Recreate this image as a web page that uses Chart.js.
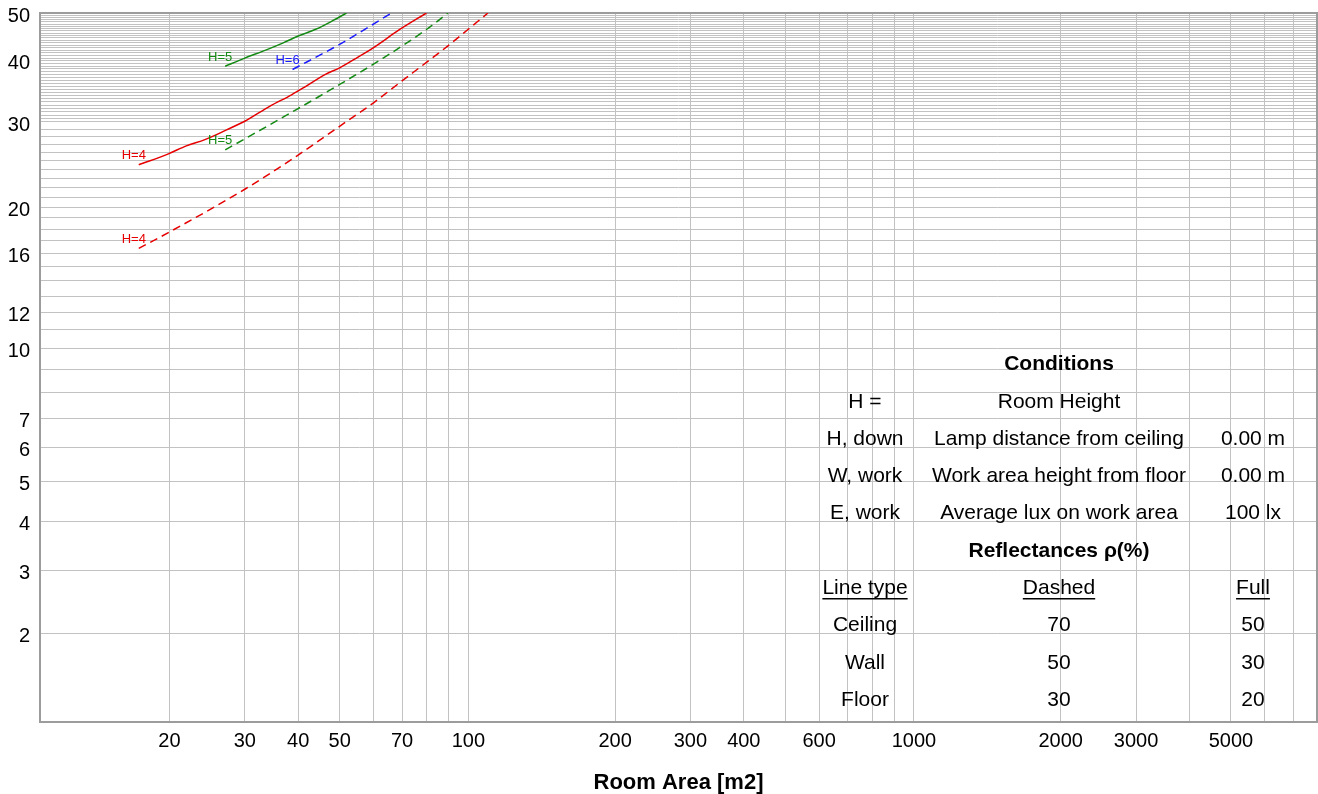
<!DOCTYPE html>
<html lang="en">
<head>
<meta charset="UTF-8">
<title>Room Area</title>
<script src="https://cdn.jsdelivr.net/npm/chart.js"></script>
<style>
    html, body { margin: 0; padding: 0; background: #fff; }
</style>
</head>
<body>
<canvas id="areaChart" width="1318" height="794"></canvas>
<script>
// tick labels shown on the axes
const xTickLabels = [20, 30, 40, 50, 70, 100, 200, 300, 400, 600, 1000, 2000, 3000, 5000];
const yTickLabels = [2, 3, 4, 5, 6, 7, 10, 12, 16, 20, 30, 40, 50];

// curves, room area [m2] -> value
const h4FullArea = [17.3, 19.9, 21.9, 24.2, 27.2, 30, 34.3, 38.6, 41.5, 46.2, 50, 55.2, 59.9, 69.1, 79.8];
const h4FullVal  = [24.5, 25.8, 26.8, 27.6, 28.9, 30.1, 32.3, 34.1, 35.4, 37.5, 38.7, 40.7, 42.5, 46.3, 50];
const h5FullArea = [27.0, 30, 33.7, 36.9, 40, 44.1, 48.3, 51.9];
const h5FullVal  = [39.0, 40.5, 42.1, 43.5, 44.9, 46.4, 48.3, 50];
const h6DashArea = [38.8, 50, 66.1];
const h6DashVal  = [38.4, 43.2, 50];
const h5DashArea = [27.0, 30, 39.6, 50, 63.2, 79.8, 89.6];
const h5DashVal  = [26.3, 27.7, 31.8, 35.8, 40.5, 46.3, 50];
const h4DashArea = [17.3, 19.9, 30, 39.6, 50, 59.9, 69.1, 79.8, 89.6, 99.8, 109.7];
const h4DashVal  = [16.4, 17.7, 21.8, 25.5, 29.4, 32.8, 36.1, 39.7, 42.9, 46.3, 50];

// conditions table
const tableRows = [
    ['', 'Conditions', ''],
    ['H =', 'Room Height', ''],
    ['H, down', 'Lamp distance from ceiling', '0.00 m'],
    ['W, work', 'Work area height from floor', '0.00 m'],
    ['E, work', 'Average lux on work area', '100 lx'],
    ['', 'Reflectances \u03c1(%)', ''],
    ['Line type', 'Dashed', 'Full'],
    ['Ceiling', '70', '50'],
    ['Wall', '50', '30'],
    ['Floor', '30', '20']
];
const boldRows = [0, 5];
const underlineRows = [6];

const FONT = '"Liberation Sans", Arial, sans-serif';

// the original area axis splits every decade unevenly (1-2 wider than log)
const A12 = 1.0937, B210 = 0.0404, C210 = 0.9596;
function areaPos(v) {
    const lg = Math.log10(v);
    const d = Math.floor(lg + 1e-9);
    const r = lg - d;
    return d + (r < Math.log10(2) ? A12 * r : B210 + C210 * r);
}
function areaInv(t) {
    const d = Math.floor(t);
    const r = t - d;
    const lg = r < A12 * Math.log10(2) ? r / A12 : (r - B210) / C210;
    return Math.pow(10, d + lg);
}

class AreaScale extends Chart.LogarithmicScale {
    static id = 'areaLog';
    getPixelForValue(v) {
        if (!v || v <= 0) v = this.min;
        const lo = areaPos(this.min), hi = areaPos(this.max);
        return this.getPixelForDecimal((areaPos(v) - lo) / (hi - lo));
    }
    getValueForPixel(p) {
        const lo = areaPos(this.min), hi = areaPos(this.max);
        return areaInv(lo + this.getDecimalForPixel(p) * (hi - lo));
    }
}

// value axis: log of (v + 1)
class ShiftScale extends Chart.LogarithmicScale {
    static id = 'shiftLog';
    getPixelForValue(v) {
        if (v === undefined || v === null) v = this.min;
        const lo = Math.log10(this.min + 1), hi = Math.log10(this.max + 1);
        return this.getPixelForDecimal((Math.log10(v + 1) - lo) / (hi - lo));
    }
    getValueForPixel(p) {
        const lo = Math.log10(this.min + 1), hi = Math.log10(this.max + 1);
        return Math.pow(10, lo + this.getDecimalForPixel(p) * (hi - lo)) - 1;
    }
}
Chart.register(AreaScale, ShiftScale);

const X_MIN = 10.85, X_MAX = 7950;
const xGrid = [];
[10, 100, 1000].forEach(d => {
    for (let m = 1; m <= 9; m++) {
        const v = m * d;
        if (v > X_MIN && v < X_MAX) xGrid.push(v);
    }
});
const yGrid = [];
for (let v = 2; v <= 30; v++) yGrid.push(v);
for (let k = 61; k <= 100; k++) yGrid.push(k / 2);

function pts(xs, ys) {
    return xs.map((x, i) => ({ x: x, y: ys[i] }));
}

function curve(label, xs, ys, color, dashed) {
    return {
        label: label,
        data: pts(xs, ys),
        borderColor: color,
        borderWidth: 1.5,
        borderDash: dashed ? [8, 5] : [],
        pointRadius: 0,
        cubicInterpolationMode: 'monotone',
        fill: false
    };
}

const frame = {
    id: 'frame',
    beforeDatasetsDraw(chart) {
        const a = chart.chartArea, ctx = chart.ctx;
        ctx.save();
        ctx.strokeStyle = '#9c9c9c';
        ctx.lineWidth = 2;
        ctx.strokeRect(a.left, a.top, a.right - a.left, a.bottom - a.top);
        ctx.restore();
    }
};

const curveTags = {
    id: 'curveTags',
    afterDatasetsDraw(chart) {
        const ctx = chart.ctx;
        ctx.save();
        ctx.font = '13px ' + FONT;
        ctx.textAlign = 'center';
        ctx.textBaseline = 'middle';
        chart.data.datasets.forEach((ds, i) => {
            const p = chart.getDatasetMeta(i).data[0];
            ctx.fillStyle = ds.borderColor;
            ctx.fillText(ds.label, p.x - 5, p.y - 9);
        });
        ctx.restore();
    }
};

const conditions = {
    id: 'conditions',
    afterDraw(chart) {
        const a = chart.chartArea, ctx = chart.ctx;
        const cols = [a.left + 825, a.left + 1019, a.left + 1213];
        ctx.save();
        ctx.fillStyle = '#000';
        ctx.strokeStyle = '#000';
        ctx.textAlign = 'center';
        ctx.textBaseline = 'middle';
        tableRows.forEach((row, r) => {
            const y = a.top + 351.5 + r * 37.3;
            ctx.font = (boldRows.includes(r) ? 'bold ' : '') + '21px ' + FONT;
            row.forEach((txt, c) => {
                if (!txt) return;
                ctx.fillText(txt, cols[c], y);
                if (underlineRows.includes(r)) {
                    const w = ctx.measureText(txt).width;
                    ctx.lineWidth = 1.5;
                    ctx.beginPath();
                    ctx.moveTo(cols[c] - w / 2, y + 10.5);
                    ctx.lineTo(cols[c] + w / 2, y + 10.5);
                    ctx.stroke();
                }
            });
        });
        ctx.restore();
    }
};

const ctx = document.getElementById('areaChart').getContext('2d');
new Chart(ctx, {
    type: 'line',
    data: {
        datasets: [
            curve('H=4', h4FullArea, h4FullVal, '#e60000', false),
            curve('H=5', h5FullArea, h5FullVal, '#138a13', false),
            curve('H=6', h6DashArea, h6DashVal, '#1a1aff', true),
            curve('H=5', h5DashArea, h5DashVal, '#138a13', true),
            curve('H=4', h4DashArea, h4DashVal, '#e60000', true)
        ]
    },
    options: {
        responsive: false,
        devicePixelRatio: 1,
        animation: false,
        layout: { padding: { left: 8, top: 13, right: 1, bottom: 0 } },
        plugins: {
            legend: { display: false },
            tooltip: { enabled: false }
        },
        scales: {
            x: {
                type: 'areaLog',
                min: X_MIN,
                max: X_MAX,
                bounds: 'data',
                afterBuildTicks: s => { s.ticks = xGrid.map(v => ({ value: v })); },
                afterFit: s => { s.height = 72; s.paddingLeft = 0; s.paddingRight = 0; },
                grid: { color: '#c2c2c2', lineWidth: 1, drawTicks: false },
                border: { display: false },
                ticks: {
                    autoSkip: false,
                    maxRotation: 0,
                    padding: 7,
                    color: '#000',
                    font: { family: FONT, size: 20 },
                    callback: v => xTickLabels.includes(v) ? String(v) : ''
                },
                title: {
                    display: true,
                    text: 'Room Area [m2]',
                    color: '#000',
                    font: { family: FONT, size: 22, weight: 'bold', lineHeight: 1.0 },
                    padding: { top: 14, bottom: 0 }
                }
            },
            y: {
                type: 'shiftLog',
                min: 1,
                max: 50,
                bounds: 'data',
                afterBuildTicks: s => { s.ticks = yGrid.map(v => ({ value: v })); },
                afterFit: s => { s.width = 32; s.paddingTop = 0; s.paddingBottom = 0; },
                grid: { color: '#c2c2c2', lineWidth: 1, drawTicks: false },
                border: { display: false },
                ticks: {
                    autoSkip: false,
                    padding: 10,
                    labelOffset: 3,
                    color: '#000',
                    font: { family: FONT, size: 20 },
                    callback: v => yTickLabels.includes(v) ? String(v) : ''
                }
            }
        }
    },
    plugins: [frame, curveTags, conditions]
});
</script>
</body>
</html>
